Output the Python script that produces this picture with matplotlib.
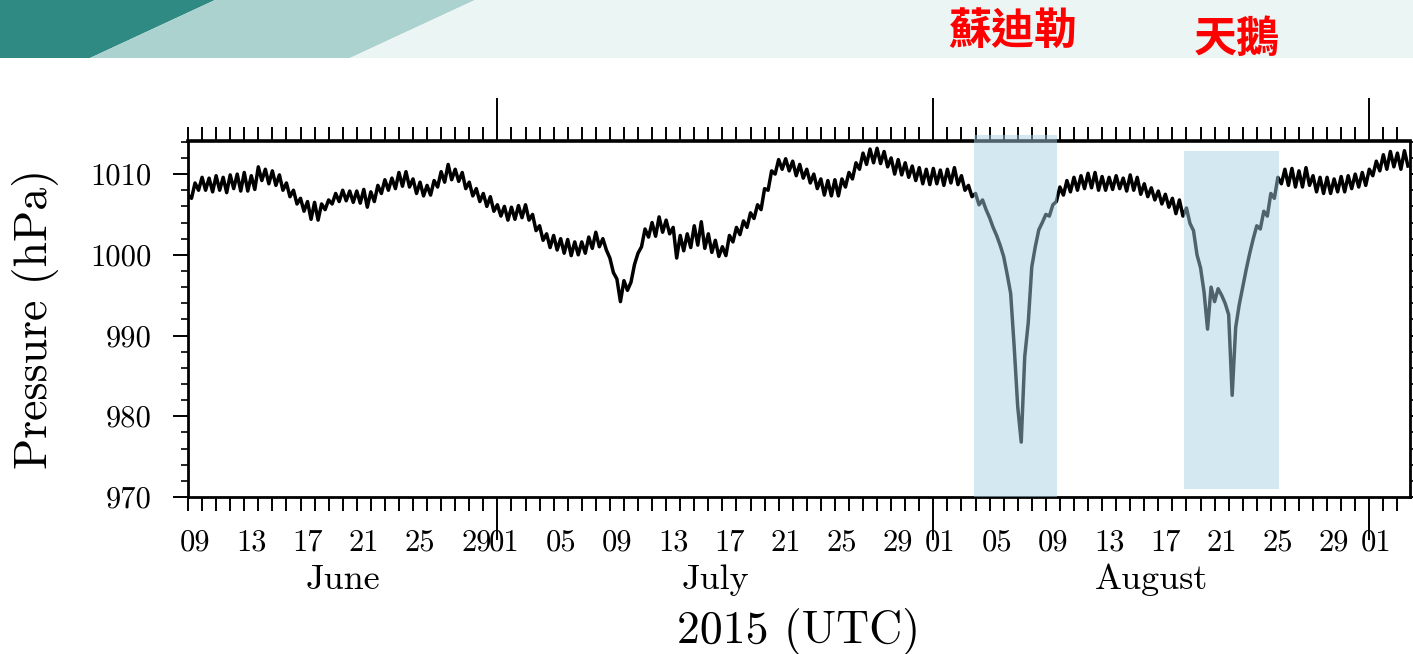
import numpy as np
import pandas as pd
import matplotlib
matplotlib.use("Agg")
import matplotlib.pyplot as plt
import matplotlib.dates as mdates
import matplotlib.transforms as mtransforms
from matplotlib.patches import Polygon, Rectangle
from matplotlib.ticker import MultipleLocator, NullFormatter

plt.rcParams["font.family"] = "cmr10"
plt.rcParams["axes.unicode_minus"] = False

# 6-hourly surface pressure (hPa), one row per day: 00, 06, 12, 18 UTC
june_hpa = [
    1007.4, 1007.0, 1008.9, 1008.0,  1009.6, 1008.0, 1009.5, 1007.8,
    1009.8, 1008.0, 1009.6, 1007.7,  1009.9, 1008.2, 1010.0, 1007.9,
    1010.2, 1007.9, 1009.8, 1008.1,  1010.9, 1009.2, 1010.6, 1008.8,
    1010.4, 1008.6, 1009.9, 1008.0,  1008.9, 1007.2, 1008.0, 1006.3,
    1007.0, 1005.4, 1006.6, 1004.4,  1006.5, 1004.3, 1006.3, 1005.6,
    1006.8, 1006.3, 1007.6, 1006.6,  1008.0, 1006.7, 1007.9, 1006.5,
    1007.9, 1006.4, 1008.1, 1005.9,  1007.8, 1006.6, 1008.6, 1007.6,
    1009.3, 1008.0, 1009.5, 1008.2,  1010.2, 1008.5, 1010.3, 1008.4,
    1009.4, 1007.6, 1009.0, 1007.3,  1008.6, 1007.4, 1009.2, 1008.4,
    1010.3, 1009.0, 1011.2, 1009.3,  1010.6, 1009.1, 1010.2, 1008.2,
    1009.0, 1007.3, 1008.2, 1006.6,  1007.6, 1006.0, 1007.2, 1005.4,
]
july_hpa = [
    1006.2, 1004.8, 1006.0, 1004.3,  1005.9, 1004.4, 1006.1, 1004.6,
    1006.2, 1004.3, 1005.0, 1003.0,  1003.6, 1001.8, 1002.6, 1000.9,
    1002.4, 1000.6, 1002.0, 1000.2,  1001.9, 999.9, 1001.6, 1000.0,
    1001.6, 1000.2, 1002.2, 1000.8,  1002.8, 1001.0, 1002.0, 1000.6,
    999.6, 997.8, 997.0, 994.2,      996.8, 995.6, 996.6, 998.8,
    1000.2, 1001.0, 1003.2, 1002.2,  1004.0, 1002.3, 1004.7, 1002.8,
    1004.3, 1002.6, 1003.4, 999.6,   1002.4, 1000.5, 1002.6, 1000.9,
    1003.6, 1001.2, 1004.1, 1000.8,  1002.6, 1000.3, 1001.8, 999.8,
    1001.0, 999.9, 1002.4, 1001.6,   1003.4, 1002.5, 1004.2, 1003.4,
    1005.2, 1004.5, 1006.2, 1005.6,  1008.2, 1008.0, 1010.4, 1010.0,
    1011.8, 1010.6, 1011.9, 1010.4,  1011.6, 1009.8, 1011.2, 1009.5,
    1010.6, 1008.9, 1010.0, 1008.2,  1009.4, 1007.4, 1009.2, 1007.3,
    1009.3, 1007.3, 1009.4, 1008.4,  1010.2, 1009.4, 1011.4, 1010.6,
    1012.6, 1011.2, 1013.1, 1011.4,  1013.2, 1011.3, 1012.8, 1010.9,
    1012.0, 1010.0, 1011.8, 1009.9,  1011.4, 1009.6, 1011.0, 1009.2,
    1010.8, 1008.8, 1010.6, 1008.7,
]
august_hpa = [
    1010.7, 1008.8, 1010.5, 1008.6,  1010.6, 1008.9, 1010.8, 1008.7,
    1009.8, 1008.0, 1008.6, 1007.2,  1007.6, 1006.2, 1006.8, 1005.6,
    1004.6, 1003.4, 1002.4, 1001.2,  999.8, 997.6, 995.2, 988.6,
    981.2, 976.8, 987.4, 991.6,      998.5, 1001.0, 1003.1, 1004.0,
    1005.0, 1004.8, 1006.2, 1006.6,  1008.4, 1007.4, 1009.2, 1007.8,
    1009.6, 1008.0, 1009.8, 1008.2,  1010.1, 1008.3, 1010.2, 1008.0,
    1009.7, 1008.0, 1009.6, 1008.1,  1009.8, 1008.2, 1009.5, 1007.9,
    1009.9, 1008.0, 1009.6, 1007.5,  1008.8, 1007.2, 1008.3, 1006.8,
    1007.9, 1006.3, 1007.5, 1005.9,  1007.0, 1005.1, 1006.8, 1004.8,
    1005.8, 1003.9, 1003.0, 1000.0,  998.4, 995.4, 990.8, 996.0,
    994.2, 995.8, 995.0, 994.0,      992.6, 982.6, 991.0, 993.8,
    996.0, 998.2, 1000.2, 1002.0,    1003.6, 1003.2, 1005.4, 1004.8,
    1007.6, 1007.0, 1009.6, 1008.8,  1010.6, 1008.6, 1010.7, 1008.4,
    1010.4, 1008.4, 1010.8, 1008.6,  1009.8, 1007.8, 1009.6, 1007.6,
    1009.6, 1007.6, 1009.4, 1007.8,  1009.7, 1007.8, 1009.8, 1008.2,
    1010.0, 1008.4, 1010.2, 1008.6,
]
september_hpa = [
    1010.6, 1009.8, 1011.6, 1010.4,  1012.4, 1010.6, 1012.8, 1010.9,
    1012.6, 1010.6, 1012.9, 1011.0,
]

# typhoon periods highlighted on the chart
storm_names = ["蘇迪勒", "天鵝"]
storm_start = ["2015-08-03 22:00", "2015-08-18 20:00"]
storm_end = ["2015-08-09 19:00", "2015-08-25 14:00"]
storm_low = [970.0, 971.0]
storm_high = [1014.8, 1012.8]
storm_label_at = ["2015-08-06 16:00", "2015-08-22 14:30"]

month_names = ["June", "July", "August"]

pressure = np.array(june_hpa + july_hpa + august_hpa + september_hpa)
times = pd.date_range("2015-06-09 00:00", periods=len(pressure), freq="6h")

t_start = pd.Timestamp("2015-06-09 00:00")
t_end = pd.Timestamp("2015-09-03 21:30")

W, H = 1413, 654
fig = plt.figure(figsize=(W / 100, H / 100), dpi=100)


def fpx(x, y):
    return (x / W, 1 - y / H)


# slide header band
band = [
    ([(0, 0), (215, 0), (90, 58), (0, 58)], "#2e8a82"),
    ([(215, 0), (475, 0), (350, 58), (90, 58)], "#acd2cf"),
    ([(475, 0), (W, 0), (W, 58), (350, 58)], "#ebf5f4"),
]
for pts, col in band:
    fig.add_artist(Polygon([fpx(*p) for p in pts], closed=True,
                           transform=fig.transFigure, facecolor=col,
                           edgecolor="none", zorder=0))

ax = fig.add_axes([188 / W, 1 - 497 / H, (1410 - 188) / W, (497 - 141) / H])
ax.plot(times, pressure, color="black", lw=2.5, zorder=2)

ax.set_xlim(t_start, t_end)
ax.set_ylim(970, 1014.1)

ax.yaxis.set_major_locator(MultipleLocator(10))
ax.yaxis.set_minor_locator(MultipleLocator(2))
ax.xaxis.set_major_locator(mdates.MonthLocator())
ax.xaxis.set_minor_locator(mdates.DayLocator())
ax.xaxis.set_major_formatter(NullFormatter())
ax.xaxis.set_minor_formatter(NullFormatter())

ax.tick_params(axis="x", which="major", direction="out", length=31,
               width=1.4, top=True, bottom=True)
ax.tick_params(axis="x", which="minor", direction="out", length=10,
               width=1.4, top=True, bottom=True)
ax.tick_params(axis="y", which="major", direction="out", length=11,
               width=1.4, left=True, right=True, labelsize=22, pad=15)
ax.tick_params(axis="y", which="minor", direction="out", length=5,
               width=1.2, left=True, right=True)
for sp in ax.spines.values():
    sp.set_linewidth(2.0)
ax.spines["top"].set_linewidth(2.6)

xblend = mtransforms.blended_transform_factory(ax.transData, ax.transAxes)

# day-of-month labels every 4 days, centred on each day
for month_start in pd.date_range("2015-06-01", "2015-09-01", freq="MS"):
    for day in range(1, 32, 4):
        d = month_start + pd.Timedelta(days=day - 1)
        if d.month != month_start.month or d < t_start or d > t_end:
            continue
        ax.text(d + pd.Timedelta(hours=12), -0.13, f"{day:02d}",
                transform=xblend, ha="center", va="center", fontsize=22)

# month names centred on the visible part of each month
month_edges = pd.date_range("2015-06-01", "2015-09-01", freq="MS")
for name, m0, m1 in zip(month_names, month_edges[:-1], month_edges[1:]):
    lo, hi = max(m0, t_start), min(m1, t_end)
    ax.text(lo + (hi - lo) / 2, -0.233, name, transform=xblend,
            ha="center", va="center", fontsize=26)

ax.text(0.5, -0.379, "2015 (UTC)", transform=ax.transAxes,
        ha="center", va="center", fontsize=33)
ax.text(-0.125, 0.5, "Pressure (hPa)", transform=ax.transAxes,
        ha="center", va="center", rotation=90, fontsize=33)

# shaded typhoon windows and their names in the header
name_tr = mtransforms.blended_transform_factory(ax.transData, fig.transFigure)
name_y = [0.953, 0.940]
for name, s, e, lo, hi, at, ny in zip(storm_names, storm_start, storm_end,
                                      storm_low, storm_high, storm_label_at,
                                      name_y):
    x0 = mdates.date2num(pd.Timestamp(s))
    x1 = mdates.date2num(pd.Timestamp(e))
    ax.add_patch(Rectangle((x0, lo), x1 - x0, hi - lo,
                           facecolor=(167 / 255, 208 / 255, 229 / 255),
                           alpha=0.48, edgecolor="none", clip_on=False,
                           zorder=3))
    ax.text(pd.Timestamp(at), ny, name, transform=name_tr, ha="center",
            va="center", fontsize=31, fontweight="bold", color="#ff0000",
            family=["Noto Sans CJK TC", "DejaVu Sans"])

fig.savefig("out.png", dpi=100)
